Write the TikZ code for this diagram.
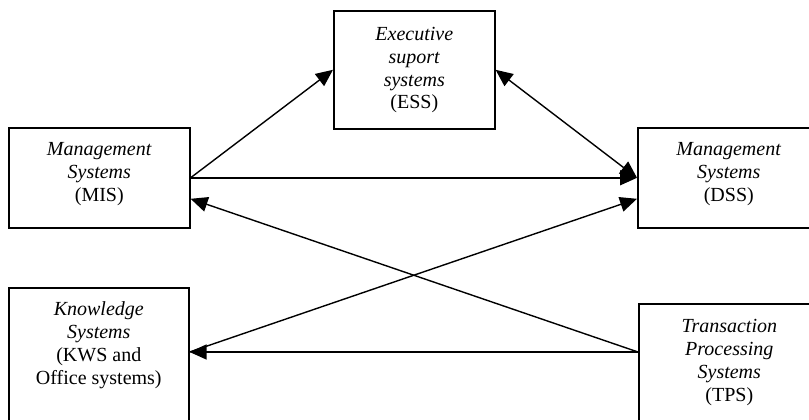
\documentclass[tikz,border=0pt]{standalone}
\usepackage{fontspec}
\setmainfont{Liberation Serif}
\usetikzlibrary{arrows.meta,calc}

\tikzset{
  sysbox/.style={draw, line width=1.6pt, inner sep=0pt, anchor=north west},
  boxtext/.style={align=center, inner sep=0pt, anchor=base,
                  font=\fontsize{20}{23}\selectfont},
  link/.style={line width=1.4pt, -{Triangle[length=17pt,width=15pt]}},
  duallink/.style={line width=1.4pt,
                   {Triangle[length=17pt,width=15pt]}-{Triangle[length=17pt,width=15pt]}}
}

\begin{document}
\begin{tikzpicture}[x=1pt,y=-1pt]
  \clip (0,0) rectangle (809,420);
  \fill[white] (0,0) rectangle (809,420);

  % system boxes
  \node[sysbox, minimum width=161pt, minimum height=118pt] (ess) at (333,10) {};
  \node[sysbox, minimum width=181pt, minimum height=100pt] (mis) at (8,127) {};
  \node[sysbox, minimum width=182pt, minimum height=100pt] (dss) at (637,127) {};
  \node[sysbox, minimum width=180pt, minimum height=140pt] (kws) at (8,287) {};
  \node[sysbox, minimum width=181pt, minimum height=130pt] (tps) at (638,303) {};

  % box captions (anchored on the baseline of the last line)
  \node[boxtext] (esst) at ($(ess.north)+(0,99)$)
    {\textit{Executive}\\\textit{suport}\\\textit{systems}\\(ESS)};
  \node[boxtext] (mist) at ($(mis.north)+(0,74)$)
    {\textit{Management}\\\textit{Systems}\\(MIS)};
  \node[boxtext] (dsst) at ($(dss.north)+(0,74)$)
    {\textit{Management}\\\textit{Systems}\\(DSS)};
  \node[boxtext] (kwst) at ($(kws.north)+(0,97)$)
    {\textit{Knowledge}\\\textit{Systems}\\(KWS and\\Office systems)};
  \node[boxtext] (tpst) at ($(tps.north)+(0,98)$)
    {\textit{Transaction}\\\textit{Processing}\\\textit{Systems}\\(TPS)};

  % connection points on the box edges
  \coordinate (tpsport) at ($(tps.north west)+(0,49)$);
  \coordinate (kwsport) at (tpsport -| kws.east);
  \coordinate (mistip) at ($(mis.east)+(0,21)$);
  \coordinate (dsstip) at ($(dss.west)+(0,21)$);

  % connectors
  \draw[link] (mis.east) -- (ess.west);
  \draw[link] (mis.east) -- (dss.west);
  \draw[duallink] (ess.east) -- (dss.west);
  \draw[link] (tpsport) -- (mistip);
  \draw[link] (tpsport) -- (kwsport);
  \draw[link] (kwsport) -- (dsstip);
\end{tikzpicture}
\end{document}
